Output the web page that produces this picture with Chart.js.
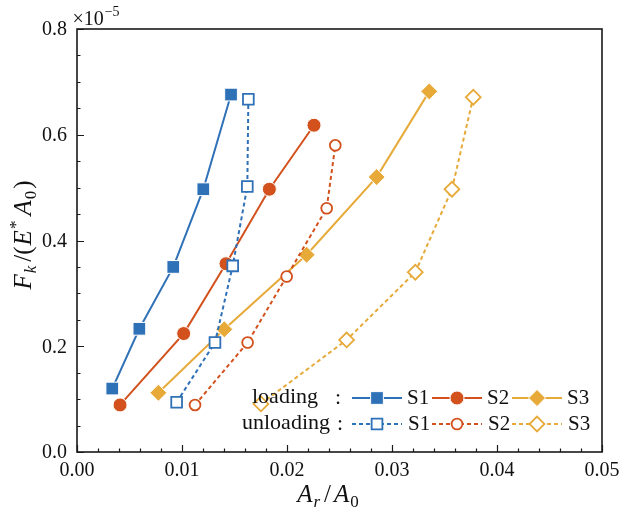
<!DOCTYPE html>
<html>
<head>
<meta charset="utf-8">
<script src="https://cdn.jsdelivr.net/npm/chart.js@4"></script>
<style>
  html, body { margin: 0; padding: 0; background: #ffffff; }
  #wrap { width: 619px; height: 510px; }
</style>
</head>
<body>
<div id="wrap"><canvas id="c" width="619" height="510"></canvas></div>
<script>
// Contact area ratio A_r/A_0 and normalised load F_k/(E* A_0) (×1e-5)
const s1LoadX   = [0.00336, 0.00594, 0.00917, 0.01203, 0.01467];
const s1LoadY   = [0.120, 0.233, 0.350, 0.497, 0.676];
const s1UnloadX = [0.00949, 0.01314, 0.01483, 0.01622, 0.01632];
const s1UnloadY = [0.094, 0.207, 0.352, 0.502, 0.667];

const s2LoadX   = [0.00410, 0.01016, 0.01419, 0.01832, 0.02257];
const s2LoadY   = [0.089, 0.224, 0.356, 0.497, 0.618];
const s2UnloadX = [0.01124, 0.01625, 0.01997, 0.02378, 0.02460];
const s2UnloadY = [0.089, 0.207, 0.332, 0.461, 0.580];

const s3LoadX   = [0.00775, 0.01403, 0.02187, 0.02854, 0.03355];
const s3LoadY   = [0.112, 0.232, 0.373, 0.520, 0.682];
const s3UnloadX = [0.01752, 0.02568, 0.03222, 0.03571, 0.03774];
const s3UnloadY = [0.091, 0.212, 0.340, 0.497, 0.671];

const xTicks = [0, 0.01, 0.02, 0.03, 0.04, 0.05];
const yTicks = [0, 0.2, 0.4, 0.6, 0.8];
const seriesNames = ['S1', 'S2', 'S3'];
const phaseNames = ['loading', 'unloading'];

const BLUE = '#2f71b7';
const RED = '#d2511d';
const YEL = '#e7aa39';
const INK = '#111111';
const SERIF = "'Liberation Serif', 'DejaVu Serif', serif";

const pts = (xs, ys) => xs.map((x, i) => ({ x: x, y: ys[i] }));

function loadStyle(color, shape, r) {
  return {
    borderColor: color, backgroundColor: color, borderWidth: 2,
    pointStyle: shape, pointRadius: r, pointHoverRadius: r,
    pointBackgroundColor: color, pointBorderColor: '#ffffff', pointBorderWidth: 1,
    tension: 0, fill: false
  };
}
function unloadStyle(color, shape, r) {
  return {
    borderColor: color, backgroundColor: color, borderWidth: 2, borderDash: [4, 3],
    pointStyle: shape, pointRadius: r, pointHoverRadius: r,
    pointBackgroundColor: '#ffffff', pointBorderColor: color, pointBorderWidth: 1.8,
    tension: 0, fill: false
  };
}

const datasets = [
  Object.assign({ label: 'S1 loading',   data: pts(s1LoadX, s1LoadY) },     loadStyle(BLUE, 'rect', 9)),
  Object.assign({ label: 'S1 unloading', data: pts(s1UnloadX, s1UnloadY) }, unloadStyle(BLUE, 'rect', 7.6)),
  Object.assign({ label: 'S2 loading',   data: pts(s2LoadX, s2LoadY) },     loadStyle(RED, 'circle', 7)),
  Object.assign({ label: 'S2 unloading', data: pts(s2UnloadX, s2UnloadY) }, unloadStyle(RED, 'circle', 5.4)),
  Object.assign({ label: 'S3 loading',   data: pts(s3LoadX, s3LoadY) },     loadStyle(YEL, 'rectRot', 8.5)),
  Object.assign({ label: 'S3 unloading', data: pts(s3UnloadX, s3UnloadY) }, unloadStyle(YEL, 'rectRot', 7.4))
];

// Text made of runs (italic letters, sub/superscripts), laid out left to right
function drawRich(ctx, segs, cx, baseY) {
  let total = 0;
  segs.forEach(s => {
    ctx.font = (s.it ? 'italic ' : '') + s.size + 'px ' + SERIF;
    s.w = ctx.measureText(s.t).width;
    total += s.w + (s.gap || 0);
  });
  let x = cx - total / 2;
  ctx.textAlign = 'left';
  ctx.textBaseline = 'alphabetic';
  segs.forEach(s => {
    x += (s.gap || 0);
    ctx.font = (s.it ? 'italic ' : '') + s.size + 'px ' + SERIF;
    ctx.fillText(s.t, x, baseY + (s.dy || 0));
    x += s.w;
  });
}

const decorations = {
  id: 'decorations',
  afterDraw(chart) {
    const ctx = chart.ctx;
    const a = chart.chartArea;
    const xs = chart.scales.x, ys = chart.scales.y;
    ctx.save();

    // frame
    ctx.strokeStyle = '#1a1a1a';
    ctx.lineWidth = 1.6;
    ctx.strokeRect(a.left, a.top, a.right - a.left, a.bottom - a.top);

    // inward major/minor ticks on bottom and left axes
    ctx.lineWidth = 1.2;
    ctx.beginPath();
    for (let i = 0; i <= 25; i++) {
      const px = Math.round(xs.getPixelForValue(i * 0.002)) + 0.5;
      const len = (i % 5 === 0) ? 7 : 3.5;
      ctx.moveTo(px, a.bottom);
      ctx.lineTo(px, a.bottom - len);
    }
    for (let i = 0; i <= 16; i++) {
      const py = Math.round(ys.getPixelForValue(i * 0.05)) + 0.5;
      const len = (i % 4 === 0) ? 7 : 3.5;
      ctx.moveTo(a.left, py);
      ctx.lineTo(a.left + len, py);
    }
    ctx.stroke();

    // tick labels
    ctx.fillStyle = INK;
    ctx.font = '20px ' + SERIF;
    ctx.textBaseline = 'middle';
    ctx.textAlign = 'center';
    xTicks.forEach(v => ctx.fillText(v.toFixed(2), xs.getPixelForValue(v), a.bottom + 19));
    ctx.textAlign = 'right';
    yTicks.forEach(v => ctx.fillText(v.toFixed(1), a.left - 10, ys.getPixelForValue(v) + 1));

    // exponent of the y axis
    drawRich(ctx, [
      { t: '×10', size: 20 },
      { t: '−5', size: 14, dy: -9, gap: 1 }
    ], 96, 25);

    // x axis title
    drawRich(ctx, [
      { t: 'A', it: true, size: 25 },
      { t: 'r', it: true, size: 17, dy: 5, gap: 1 },
      { t: '/', size: 25, gap: 4 },
      { t: 'A', it: true, size: 25, gap: 3 },
      { t: '0', size: 17, dy: 5, gap: 1 }
    ], 328, 502);

    // y axis title
    ctx.save();
    ctx.translate(31, 235);
    ctx.rotate(-Math.PI / 2);
    drawRich(ctx, [
      { t: 'F', it: true, size: 25 },
      { t: 'k', it: true, size: 17, dy: 5, gap: 1 },
      { t: '/(', size: 25, gap: 4 },
      { t: 'E', it: true, size: 25, gap: 1 },
      { t: '*', size: 17, dy: -10, gap: 1 },
      { t: 'A', it: true, size: 25, gap: 5 },
      { t: '0', size: 17, dy: 5, gap: 1 },
      { t: ')', size: 25, gap: 2 }
    ], 0, 0);
    ctx.restore();

    // two-row legend: loading (solid, filled) / unloading (dashed, open)
    const rows = [398, 424];
    const colors = [BLUE, RED, YEL];
    const shapes = ['rect', 'circle', 'rectRot'];
    const segX = [[352, 402], [432, 482], [512, 562]];
    const textX = [407, 487, 567];
    const radii = [[9, 7, 8.5], [7.6, 5.4, 7.4]];
    ctx.textBaseline = 'alphabetic';
    ctx.textAlign = 'left';
    ctx.fillStyle = INK;
    ctx.font = '22px ' + SERIF;
    ctx.fillText(phaseNames[0], 252, 403);
    ctx.fillText(phaseNames[1], 242, 429);
    ctx.fillText(':', 335, 404);
    ctx.fillText(':', 337, 430);
    ctx.textBaseline = 'middle';
    for (let r = 0; r < 2; r++) {
      for (let k = 0; k < 3; k++) {
        const y = rows[r];
        const [x0, x1] = segX[k];
        ctx.strokeStyle = colors[k];
        ctx.lineWidth = 2;
        ctx.setLineDash(r === 0 ? [] : [4, 3]);
        ctx.beginPath();
        ctx.moveTo(x0, y);
        ctx.lineTo(x1, y);
        ctx.stroke();
        ctx.setLineDash([]);
        const cx = (x0 + x1) / 2;
        if (r === 0) {
          ctx.fillStyle = colors[k];
          ctx.strokeStyle = '#ffffff';
          ctx.lineWidth = 1;
        } else {
          ctx.fillStyle = '#ffffff';
          ctx.strokeStyle = colors[k];
          ctx.lineWidth = 1.8;
        }
        Chart.helpers.drawPoint(ctx, { pointStyle: shapes[k], radius: radii[r][k], rotation: 0, borderWidth: ctx.lineWidth }, cx, y);
        ctx.fillStyle = INK;
        ctx.font = '21px ' + SERIF;
        ctx.fillText(seriesNames[k], textX[k] + (r === 1 ? 1 : 0), y);
      }
    }
    ctx.restore();
  }
};

new Chart(document.getElementById('c'), {
  type: 'line',
  data: { datasets: datasets },
  options: {
    responsive: false,
    animation: false,
    devicePixelRatio: 1,
    layout: { padding: { left: 0, right: 17, top: 29, bottom: 0 } },
    plugins: { legend: { display: false }, tooltip: { enabled: false } },
    scales: {
      x: {
        type: 'linear', min: 0, max: 0.05,
        afterFit(s) { s.height = 58; },
        grid: { display: false, drawTicks: false },
        border: { display: false },
        ticks: { display: false }
      },
      y: {
        type: 'linear', min: 0, max: 0.8,
        afterFit(s) { s.width = 77; },
        grid: { display: false, drawTicks: false },
        border: { display: false },
        ticks: { display: false }
      }
    }
  },
  plugins: [decorations]
});
</script>
</body>
</html>
